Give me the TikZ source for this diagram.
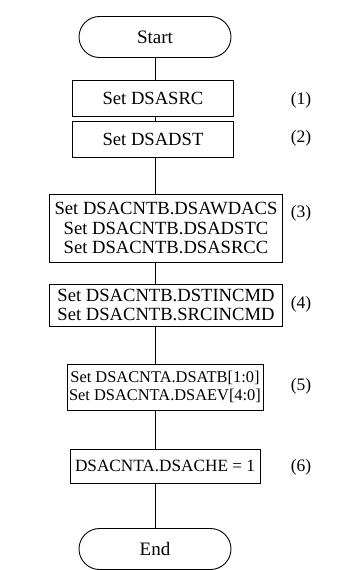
\documentclass[tikz,border=0pt]{standalone}
\usepackage{fontspec}
\setmainfont{Liberation Serif}
\usetikzlibrary{shapes.misc}
\tikzset{
  flowbox/.style={draw, line width=0.9pt, rectangle, inner sep=0pt, align=center,
    font=\fontsize{18.6}{19.5}\selectfont},
  smallbox/.style={flowbox, font=\fontsize{16.4}{18.5}\selectfont},
  terminal/.style={draw, line width=0.9pt, rounded rectangle, inner sep=0pt,
    minimum width=152pt, minimum height=41pt, font=\fontsize{19}{22}\selectfont},
  stepno/.style={inner sep=0pt, font=\fontsize{17.5}{22}\selectfont},
  link/.style={line width=0.9pt}
}
\begin{document}
\begin{tikzpicture}[x=1pt, y=-1pt]
  \useasboundingbox (0,0) rectangle (346,570);

  % start / end terminals
  \node[terminal] (start) at (155,37) {Start};
  \node[terminal] (stop)  at (155,549) {End};

  % processing steps
  \node[flowbox, minimum width=161pt, minimum height=36pt] (s1) at (153,98) {Set DSASRC};
  \node[flowbox, minimum width=161pt, minimum height=36pt] (s2) at (153,139) {Set DSADST};
  \node[flowbox, minimum width=233pt, minimum height=68pt] (s3) at (166,228)
    {Set DSACNTB.DSAWDACS\\Set DSACNTB.DSADSTC\\Set DSACNTB.DSASRCC};
  \node[flowbox, minimum width=233pt, minimum height=42pt, font=\fontsize{18.6}{18.5}\selectfont]
    (s4) at (166,305) {Set DSACNTB.DSTINCMD\\Set DSACNTB.SRCINCMD};
  \node[smallbox, minimum width=196pt, minimum height=46pt] (s5) at (165,387)
    {Set DSACNTA.DSATB[1:0]\\Set DSACNTA.DSAEV[4:0]};
  \node[flowbox, font=\fontsize{17.2}{19}\selectfont, minimum width=190pt, minimum height=34pt]
    (s6) at (165,466) {DSACNTA.DSACHE = 1};

  % step numbers
  \node[stepno] (n1) at (301,100) {(1)};
  \node[stepno] (n2) at (301,138) {(2)};
  \node[stepno] (n3) at (301,213) {(3)};
  \node[stepno] (n4) at (301,304) {(4)};
  \node[stepno] (n5) at (301,386) {(5)};
  \node[stepno] (n6) at (301,467) {(6)};

  % flow line down the centre
  \draw[link] (start.south) -- (start.south |- s1.north);
  \draw[link] (start.south |- s1.south) -- (start.south |- s2.north);
  \draw[link] (start.south |- s2.south) -- (start.south |- s3.north);
  \draw[link] (start.south |- s3.south) -- (start.south |- s4.north);
  \draw[link] (start.south |- s4.south) -- (start.south |- s5.north);
  \draw[link] (start.south |- s5.south) -- (start.south |- s6.north);
  \draw[link] (start.south |- s6.south) -- (stop.north);
\end{tikzpicture}
\end{document}
